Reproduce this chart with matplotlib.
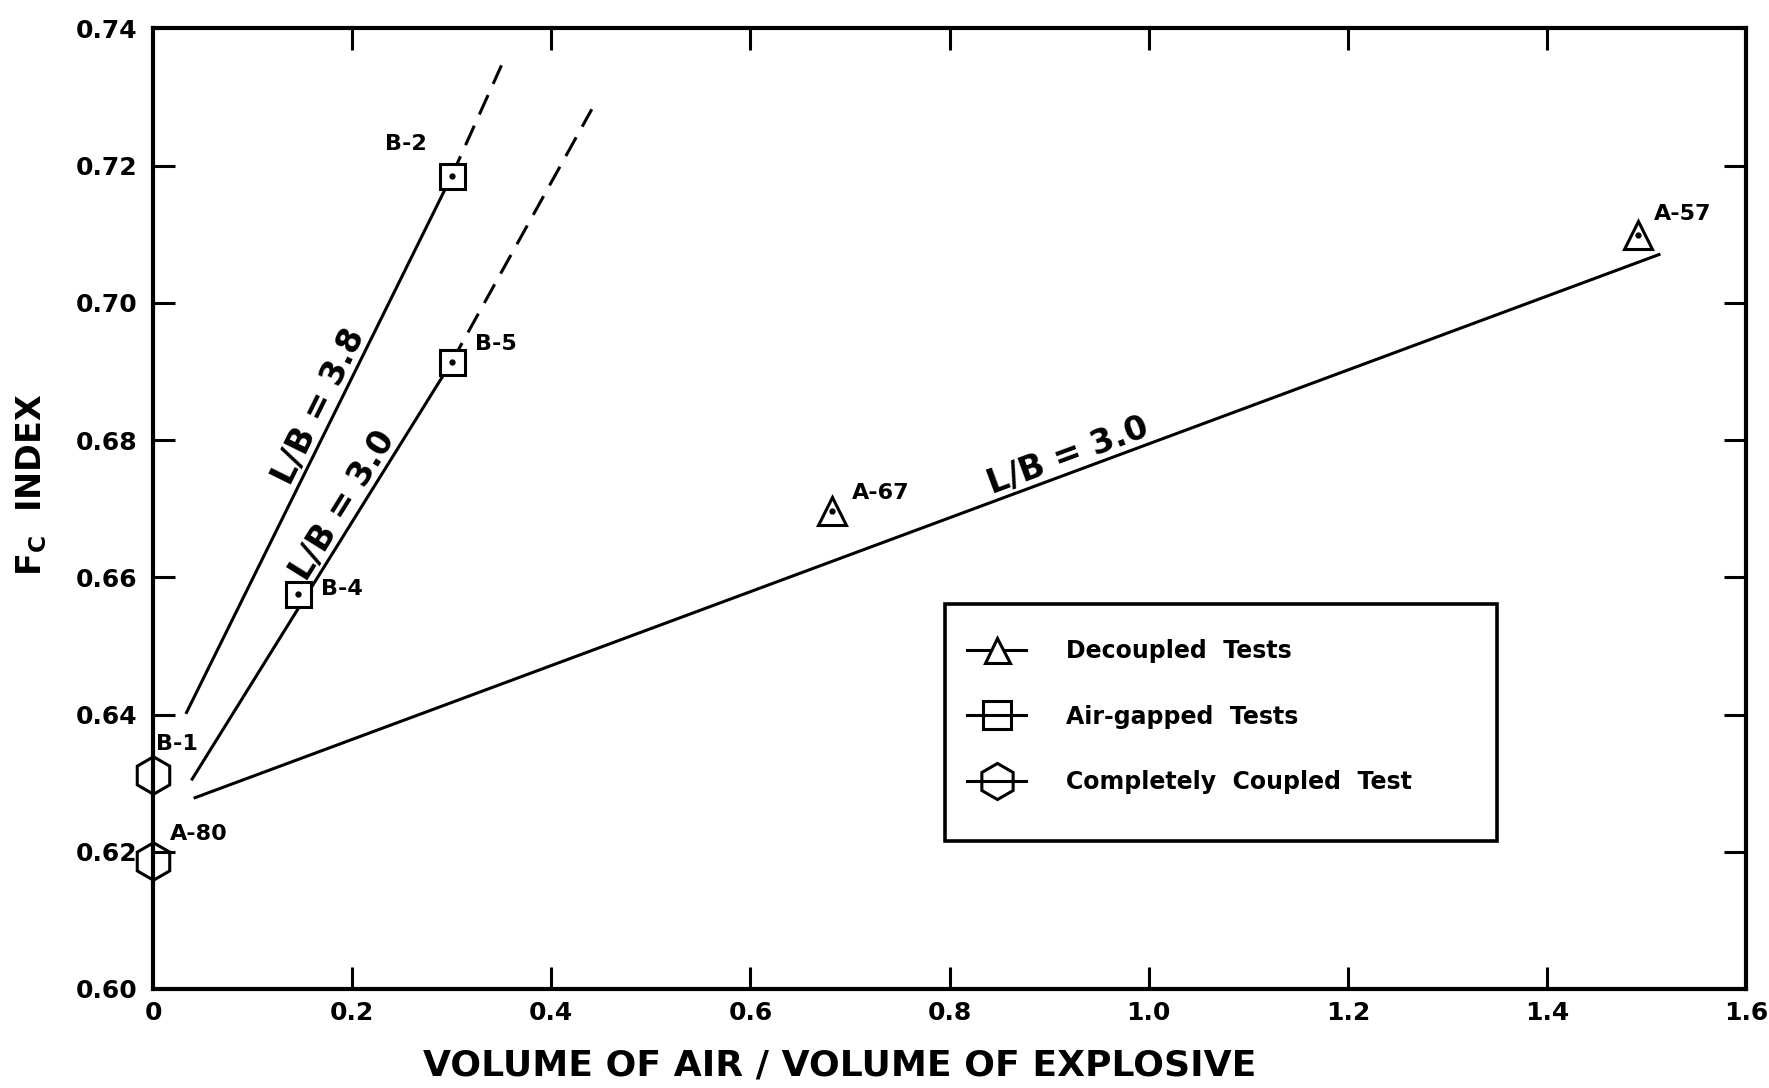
import matplotlib
matplotlib.use("Agg")
import matplotlib.pyplot as plt
from matplotlib.lines import Line2D
from matplotlib.patches import Rectangle
import numpy as np

# ---------------- data ----------------
decoupled_x = [0.682, 1.492]
decoupled_y = [0.6697, 0.7099]
decoupled_labels = ["A-67", "A-57"]

airgap_x = [0.30, 0.146, 0.30]
airgap_y = [0.7185, 0.6575, 0.6914]
airgap_labels = ["B-2", "B-4", "B-5"]

coupled_x = [0.0, 0.0]
coupled_y = [0.6312, 0.6187]
coupled_labels = ["B-1", "A-80"]

# fitted lines (solid part, dashed extrapolation)
lb38_x = [0.033, 0.30]
lb38_y = [0.6401, 0.7185]
lb38_ext_x = [0.30, 0.350]
lb38_ext_y = [0.7185, 0.7346]

lb30_x = [0.0385, 0.30]
lb30_y = [0.6304, 0.6914]
lb30_ext_x = [0.30, 0.4407]
lb30_ext_y = [0.6914, 0.7282]

dec_x = [0.0408, 1.514]
dec_y = [0.6278, 0.7071]

line_labels = ["L/B = 3.8", "L/B = 3.0", "L/B = 3.0"]

xticks = [0, 0.2, 0.4, 0.6, 0.8, 1.0, 1.2, 1.4, 1.6]
xticklabels = ["0", "0.2", "0.4", "0.6", "0.8", "1.0", "1.2", "1.4", "1.6"]
yticks = [0.60, 0.62, 0.64, 0.66, 0.68, 0.70, 0.72, 0.74]
yticklabels = ["0.60", "0.62", "0.64", "0.66", "0.68", "0.70", "0.72", "0.74"]

legend_labels = ["Decoupled  Tests", "Air-gapped  Tests", "Completely  Coupled  Test"]

# ---------------- style ----------------
plt.rcParams["font.family"] = ["DejaVu Sans"]
plt.rcParams["font.weight"] = "bold"
LW = 2.2
fig = plt.figure(figsize=(17.69, 10.88), dpi=100)
ax = fig.add_axes([0.0865, 0.091, 0.9005, 0.883])
ax.set_xlim(0, 1.6)
ax.set_ylim(0.60, 0.74)

for s in ax.spines.values():
    s.set_linewidth(3.0)

ax.set_xticks(xticks)
ax.set_xticklabels(xticklabels)
ax.set_yticks(yticks)
ax.set_yticklabels(yticklabels)
ax.tick_params(direction="in", length=16, width=2.2, labelsize=18,
               top=True, right=True)
ax.tick_params(axis="x", pad=9)
ax.tick_params(axis="y", pad=11)
# no tick marks at the corners (they coincide with the frame)
for axis in (ax.xaxis, ax.yaxis):
    ticks = axis.get_major_ticks()
    for t in (ticks[0], ticks[-1]):
        t.tick1line.set_visible(False)
        t.tick2line.set_visible(False)

# lines
ax.plot(lb38_x, lb38_y, color="black", lw=LW, solid_capstyle="butt")
ax.plot(lb38_ext_x, lb38_ext_y, color="black", lw=LW, dashes=(7, 4))
ax.plot(lb30_x, lb30_y, color="black", lw=LW, solid_capstyle="butt")
ax.plot(lb30_ext_x, lb30_ext_y, color="black", lw=LW, dashes=(7, 4))
ax.plot(dec_x, dec_y, color="black", lw=LW, solid_capstyle="butt")

# markers
ax.plot(decoupled_x, decoupled_y, ls="none", marker="^", ms=20, mfc="white",
        mec="black", mew=LW, zorder=5)
ax.plot(decoupled_x, decoupled_y, ls="none", marker="o", ms=3.5, color="black", zorder=6)
ax.plot(airgap_x, airgap_y, ls="none", marker="s", ms=18, mfc="white",
        mec="black", mew=LW, zorder=5)
ax.plot(airgap_x, airgap_y, ls="none", marker="o", ms=3.5, color="black", zorder=6)
ax.plot(coupled_x, coupled_y, ls="none", marker="h", ms=27, mfc="none",
        mec="black", mew=LW, zorder=5, clip_on=False)

# point labels (offsets in points)
lab_fs = 16
offsets = {"A-67": (35, 13), "A-57": (32, 15), "B-2": (-33, 23), "B-4": (31, 4),
           "B-5": (32, 13), "B-1": (17, 22), "A-80": (33, 19)}
for xs, ys, labs in [(decoupled_x, decoupled_y, decoupled_labels),
                     (airgap_x, airgap_y, airgap_labels),
                     (coupled_x, coupled_y, coupled_labels)]:
    for x, y, l in zip(xs, ys, labs):
        ax.annotate(l, (x, y), xytext=offsets[l], textcoords="offset points",
                    ha="center", va="center", fontsize=lab_fs, fontweight="bold",
                    annotation_clip=False)

# line labels along lines
def along(xs, ys, xpos, text):
    p0 = ax.transData.transform((xs[0], ys[0]))
    p1 = ax.transData.transform((xs[1], ys[1]))
    ang = np.degrees(np.arctan2(p1[1] - p0[1], p1[0] - p0[0]))
    ypos = ys[0] + (xpos - xs[0]) * (ys[1] - ys[0]) / (xs[1] - xs[0])
    ax.text(xpos, ypos, text, rotation=ang, rotation_mode="anchor",
            ha="center", va="bottom", fontsize=24, fontweight="bold")

along(lb38_x, lb38_y, 0.182, line_labels[0])
along(lb30_x, lb30_y, 0.205, line_labels[1])
along(dec_x, dec_y, 0.925, line_labels[2])

# legend
ax.add_patch(Rectangle((0.497, 0.154), 0.8435 - 0.497, 0.401 - 0.154,
                       transform=ax.transAxes, fill=False, lw=2.6, zorder=4))
handles = [
    Line2D([], [], color="black", lw=LW, marker="^", ms=18, mfc="white", mec="black", mew=LW),
    Line2D([], [], color="black", lw=LW, marker="s", ms=20, mfc="none", mec="black", mew=LW),
    Line2D([], [], color="black", lw=LW, marker="h", ms=26, mfc="none", mec="black", mew=LW),
]
leg = ax.legend(handles, legend_labels, loc="upper left", bbox_to_anchor=(0.511, 0.364),
                frameon=False, fontsize=17, handlelength=2.5, handletextpad=1.7,
                labelspacing=1.75, borderpad=0, borderaxespad=0)
for t in leg.get_texts():
    t.set_fontweight("bold")

# axis labels
ax.text(0.431, -0.08, "VOLUME OF AIR / VOLUME OF EXPLOSIVE", transform=ax.transAxes,
        ha="center", va="center", fontsize=26, fontweight="bold")
ax.text(-0.0765, 0.525, r"F$_\mathregular{C}$  INDEX", transform=ax.transAxes,
        rotation=90, ha="center", va="center", fontsize=24, fontweight="bold")

fig.savefig("out.png", dpi=100)
